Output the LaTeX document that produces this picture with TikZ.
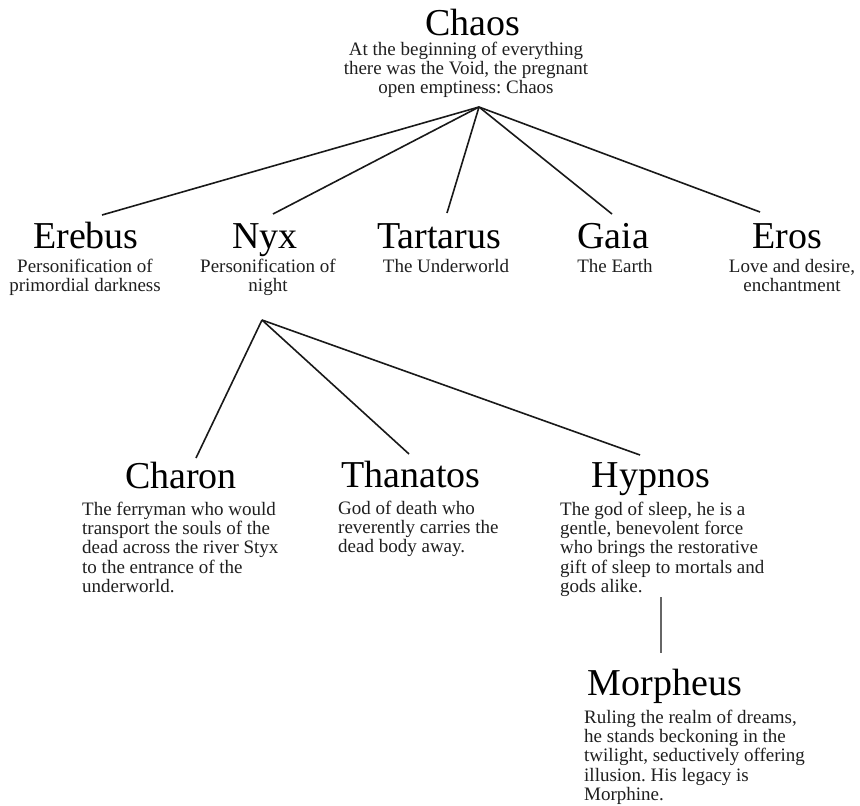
\documentclass[tikz,border=0pt]{standalone}
\usepackage{fontspec}
\setmainfont{Liberation Serif}
\frenchspacing
\begin{document}
\begin{tikzpicture}[x=1pt,y=-1pt,
  title/.style={anchor=base,inner sep=0pt,text=black,font=\fontsize{38}{40}\selectfont},
  desc/.style={anchor=base,inner sep=0pt,text=black!88,font=\fontsize{19}{19.4}\selectfont\frenchspacing},
  descl/.style={desc,anchor=base west},
  link/.style={draw=black!90,line width=1.6pt},
  sublink/.style={draw=black!60,line width=1.8pt}]
\useasboundingbox[fill=white] (0,0) rectangle (860,806);

% Level 1
\node[title] (chaos) at (472.5,35) {Chaos};
\node[desc] (chaosd) at (466,55) {\begin{tabular}[t]{@{}c@{}}At the beginning of everything\\there was the Void, the pregnant\\open emptiness: Chaos\end{tabular}};

% Level 2
\node[title] (erebus) at (86,248) {Erebus};
\node[desc] (erebusd) at (85,272) {\begin{tabular}[t]{@{}c@{}}Personification of\\primordial darkness\end{tabular}};
\node[title] (nyx) at (265,248) {Nyx};
\node[desc] (nyxd) at (268,272) {\begin{tabular}[t]{@{}c@{}}Personification of\\night\end{tabular}};
\node[title] (tartarus) at (439,248) {Tartarus};
\node[desc] (tartarusd) at (446,272) {The Underworld};
\node[title] (gaia) at (613,248) {Gaia};
\node[desc] (gaiad) at (615,272) {The Earth};
\node[title] (eros) at (787,248) {Eros};
\node[desc] (erosd) at (792,272) {\begin{tabular}[t]{@{}c@{}}Love and desire,\\enchantment\end{tabular}};

% Level 3
\node[title] (charon) at (181,488) {Charon};
\node[descl] (charond) at (82,515) {\begin{tabular}[t]{@{}l@{}}The ferryman who would\\transport the souls of the\\dead across the river Styx\\to the entrance of the\\underworld.\end{tabular}};
\node[title] (thanatos) at (411,487) {Thanatos};
\node[descl] (thanatosd) at (338,514) {\begin{tabular}[t]{@{}l@{}}God of death who\\reverently carries the\\dead body away.\end{tabular}};
\node[title] (hypnos) at (651,487) {Hypnos};
\node[descl] (hypnosd) at (560,515) {\begin{tabular}[t]{@{}l@{}}The god of sleep, he is a\\gentle, benevolent force\\who brings the restorative\\gift of sleep to mortals and\\gods alike.\end{tabular}};

% Level 4
\node[title] (morpheus) at (665,695) {Morpheus};
\node[descl] (morpheusd) at (584,723) {\begin{tabular}[t]{@{}l@{}}Ruling the realm of dreams,\\he stands beckoning in the\\twilight, seductively offering\\illusion. His legacy is\\Morphine.\end{tabular}};

% connector end points
\coordinate (chaoshub) at (479,107);
\coordinate (erebustop) at (102,215);
\coordinate (nyxtop) at (273,214);
\coordinate (tartarustop) at (447,213);
\coordinate (gaiatop) at (612,214);
\coordinate (erostop) at (760,212);
\coordinate (nyxhub) at (262,320);
\coordinate (charontop) at (196,458);
\coordinate (thanatostop) at (409,454);
\coordinate (hypnostop) at (640,455);
\coordinate (hypnosbot) at (661,597);
\coordinate (morpheustop) at (661,653);

\draw[link] (chaoshub) -- (erebustop);
\draw[link] (chaoshub) -- (nyxtop);
\draw[link] (chaoshub) -- (tartarustop);
\draw[link] (chaoshub) -- (gaiatop);
\draw[link] (chaoshub) -- (erostop);
\draw[link] (nyxhub) -- (charontop);
\draw[link] (nyxhub) -- (thanatostop);
\draw[link] (nyxhub) -- (hypnostop);
\draw[sublink] (hypnosbot) -- (morpheustop);
\end{tikzpicture}
\end{document}
